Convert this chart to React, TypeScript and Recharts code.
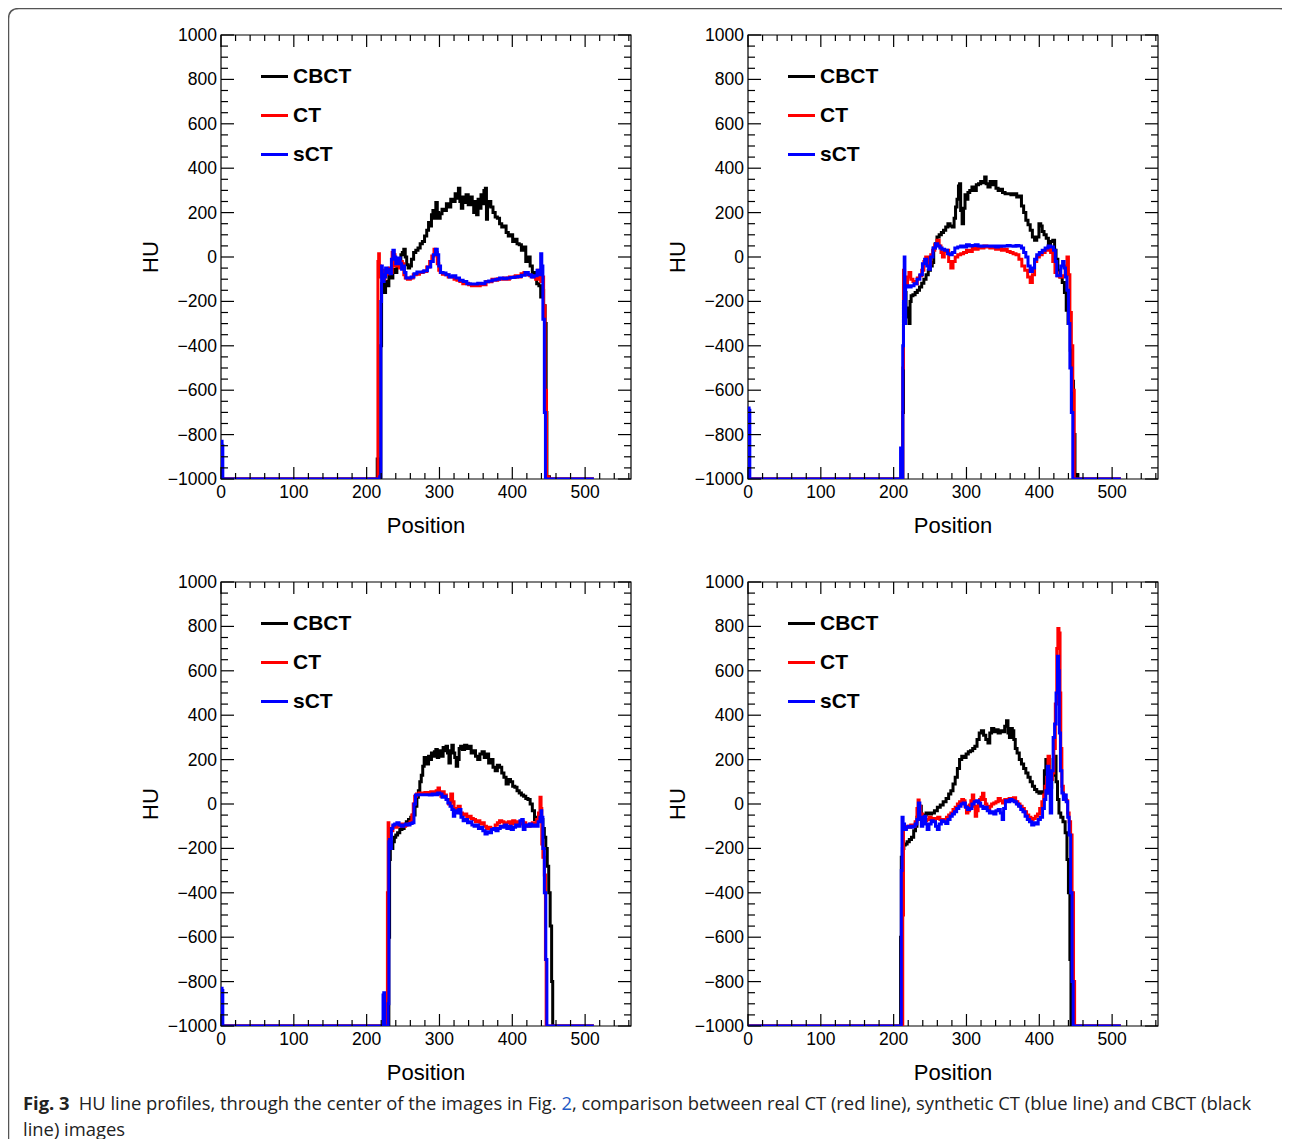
import React from 'react';
import { LineChart, Line, XAxis, YAxis, ReferenceArea, Legend } from 'recharts';

type Pt = [number, number];

// tick positions (ROOT style: majors labelled, minors unlabelled)
const xTicks = [0, 20, 40, 60, 80, 100, 120, 140, 160, 180, 200, 220, 240, 260, 280, 300, 320, 340, 360, 380, 400, 420, 440, 460, 480, 500, 520, 540, 560];
const yTicks = [-1000, -950, -900, -850, -800, -750, -700, -650, -600, -550, -500, -450, -400, -350, -300, -250, -200, -150, -100, -50, 0, 50, 100, 150, 200, 250, 300, 350, 400, 450, 500, 550, 600, 650, 700, 750, 800, 850, 900, 950, 1000];

// ---- panel 1 (top left) ----
const p1Cbct: Pt[] = [[0,-1000],[1,-900],[2,-1000],[214,-1000],[215,-910],[216,-1000],[219,-1000],[220,-400],[221,-120],[223,-140],[225,-160],[227,-110],[229,-130],[232,-80],[235,-95],[237,-55],[240,-70],[243,-30],[246,-15],[248,10],[250,20],[252,35],[254,0],[256,-35],[258,-50],[260,-40],[263,-10],[266,20],[269,30],[272,40],[275,60],[278,70],[281,95],[284,120],[286,155],[288,140],[290,190],[292,210],[294,175],[296,245],[298,200],[300,175],[302,195],[305,215],[308,210],[311,240],[314,225],[317,260],[320,250],[323,285],[325,265],[327,310],[329,250],[331,220],[333,270],[335,245],[338,280],[341,235],[344,270],[346,235],[348,200],[350,250],[352,190],[354,260],[356,220],[358,280],[360,240],[362,300],[364,310],[365,170],[367,230],[369,250],[372,225],[375,200],[378,180],[381,175],[384,150],[387,135],[390,140],[393,110],[396,95],[399,100],[402,70],[405,80],[408,60],[411,55],[414,30],[417,45],[420,-20],[423,0],[426,-40],[429,-80],[432,-70],[435,-120],[438,-130],[440,-180],[442,-150],[444,-220],[446,-300],[447,-700],[448,-1000],[450,-990],[452,-1000],[512,-1000]];
const p1Ct: Pt[] = [[0,-1000],[1,-860],[2,-1000],[215,-1000],[216,-20],[217,15],[218,-40],[220,-90],[222,-60],[224,-100],[226,-80],[228,-60],[230,-75],[232,-50],[234,-70],[236,20],[238,10],[240,-40],[242,-20],[244,-10],[246,-50],[248,-20],[250,-30],[252,-80],[254,-95],[258,-100],[262,-95],[266,-80],[270,-78],[275,-70],[280,-65],[285,-45],[288,-20],[291,5],[294,35],[296,20],[298,-30],[300,-60],[302,-70],[306,-78],[310,-80],[314,-90],[318,-90],[322,-100],[326,-105],[330,-110],[334,-120],[338,-118],[342,-125],[346,-130],[350,-128],[354,-130],[358,-120],[362,-125],[366,-110],[370,-112],[374,-100],[378,-105],[382,-98],[386,-100],[390,-95],[394,-100],[398,-90],[402,-92],[406,-85],[410,-90],[414,-75],[418,-70],[422,-80],[426,-85],[430,-90],[434,-100],[436,-60],[438,-80],[440,-110],[442,-90],[444,-220],[446,-600],[448,-990],[452,-1000],[512,-1000]];
const p1Sct: Pt[] = [[0,-1000],[1,-830],[2,-850],[3,-1000],[217,-1000],[219,-990],[220,-200],[221,-40],[222,-80],[223,-110],[225,-90],[227,-50],[229,-70],[231,-55],[233,-75],[235,-10],[237,30],[239,0],[241,-30],[243,-10],[245,-5],[247,-30],[249,-55],[251,-40],[253,-70],[255,-95],[259,-95],[263,-90],[267,-75],[271,-68],[276,-68],[281,-62],[286,-45],[290,-20],[293,10],[296,35],[298,10],[300,-40],[303,-70],[307,-72],[311,-80],[316,-90],[320,-85],[325,-95],[330,-105],[335,-110],[340,-120],[345,-122],[350,-122],[355,-118],[360,-120],[365,-112],[370,-108],[375,-104],[380,-100],[385,-95],[390,-98],[395,-95],[400,-92],[405,-90],[410,-88],[415,-82],[420,-70],[424,-80],[428,-90],[432,-85],[436,-60],[438,-80],[440,15],[441,-40],[443,-280],[445,-700],[446,-1000],[512,-1000]];

// ---- panel 2 (top right) ----
const p2Cbct: Pt[] = [[0,-1000],[1,-920],[2,-1000],[212,-1000],[213,-700],[214,-210],[216,-160],[218,-230],[220,-270],[222,-300],[223,-200],[225,-175],[228,-170],[231,-160],[234,-150],[237,-135],[240,-118],[243,-100],[246,-80],[249,-60],[252,-40],[254,-25],[256,40],[258,60],[261,90],[264,100],[267,110],[270,120],[273,135],[276,150],[279,140],[282,135],[284,175],[286,225],[288,260],[290,320],[291,330],[293,210],[295,150],[297,220],[299,280],[301,260],[303,290],[306,300],[309,315],[312,300],[315,325],[318,330],[321,340],[324,335],[326,360],[328,330],[331,315],[334,340],[337,325],[339,340],[342,310],[345,300],[348,305],[351,290],[355,285],[359,285],[363,280],[367,285],[371,270],[374,275],[377,230],[380,200],[383,165],[386,145],[389,120],[392,90],[395,75],[398,90],[401,150],[403,140],[405,115],[408,100],[411,85],[414,60],[417,70],[420,75],[422,30],[424,-10],[427,-60],[430,-90],[433,-115],[436,-160],[438,-240],[441,-300],[444,-420],[446,-560],[448,-800],[450,-1000],[452,-980],[454,-1000],[512,-1000]];
const p2Ct: Pt[] = [[0,-1000],[1,-950],[2,-1000],[212,-1000],[213,-500],[214,-60],[216,-100],[218,-120],[220,-90],[222,-70],[225,-100],[228,-110],[231,-120],[234,-95],[237,-85],[240,-60],[243,-20],[245,0],[248,-10],[250,-30],[252,10],[255,30],[258,55],[261,75],[264,50],[266,20],[268,0],[271,25],[274,30],[277,-20],[280,-50],[283,-20],[286,0],[290,10],[294,15],[298,20],[302,30],[306,25],[310,40],[314,35],[318,45],[322,40],[326,50],[330,45],[334,40],[338,45],[342,35],[346,40],[350,30],[354,35],[358,25],[362,20],[366,15],[370,10],[374,-10],[378,-40],[382,-60],[386,-90],[389,-115],[392,-80],[395,-20],[398,0],[402,10],[406,20],[410,30],[414,45],[417,20],[420,-20],[423,-70],[426,-85],[430,-90],[434,-85],[437,-40],[439,0],[441,-80],[443,-250],[445,-400],[447,-600],[449,-1000],[512,-1000]];
const p2Sct: Pt[] = [[0,-1000],[1,-680],[2,-690],[3,-1000],[209,-1000],[210,-860],[211,-870],[212,-1000],[213,-400],[214,-200],[215,0],[216,-300],[217,-130],[219,-130],[222,-135],[226,-130],[230,-120],[234,-100],[238,-80],[241,-30],[244,-10],[247,-40],[249,-55],[252,0],[256,40],[259,60],[262,50],[265,40],[268,35],[272,30],[276,15],[279,10],[282,20],[286,40],[290,45],[294,50],[298,45],[302,55],[306,50],[310,52],[314,55],[318,50],[322,48],[326,50],[330,50],[334,48],[338,50],[342,45],[346,50],[350,48],[354,50],[358,52],[362,50],[366,48],[370,52],[374,50],[377,40],[380,20],[383,0],[386,-40],[389,-65],[392,-50],[395,-10],[398,10],[402,20],[406,30],[410,40],[414,50],[418,45],[421,30],[423,-20],[425,-85],[428,-85],[431,-40],[433,-20],[435,-50],[437,-90],[439,-150],[441,-300],[443,-500],[445,-700],[447,-1000],[512,-1000]];

// ---- panel 3 (bottom left) ----
const p3Cbct: Pt[] = [[0,-1000],[1,-900],[2,-1000],[230,-1000],[231,-600],[232,-250],[233,-180],[235,-200],[237,-170],[239,-150],[241,-140],[244,-130],[247,-115],[250,-110],[253,-95],[256,-80],[259,-70],[262,-60],[265,-50],[268,-10],[270,30],[272,60],[274,100],[276,130],[278,170],[280,210],[282,190],[284,180],[286,215],[288,200],[290,230],[292,215],[294,235],[296,245],[298,210],[300,225],[302,240],[304,215],[306,255],[308,240],[310,260],[312,230],[314,185],[316,240],[318,265],[320,230],[322,210],[324,170],[326,200],[328,250],[330,260],[333,245],[336,265],[339,250],[342,260],[345,230],[348,240],[351,215],[354,200],[357,225],[360,235],[363,210],[366,225],[369,185],[372,200],[375,165],[378,150],[381,175],[384,165],[387,140],[390,120],[393,90],[396,110],[399,100],[402,80],[405,75],[408,60],[411,50],[414,40],[417,35],[420,25],[423,20],[426,0],[429,-30],[432,-70],[435,-60],[438,-55],[441,-70],[443,-110],[445,-150],[447,-200],[449,-280],[451,-400],[453,-550],[455,-800],[456,-1000],[512,-1000]];
const p3Ct: Pt[] = [[0,-1000],[1,-950],[2,-1000],[226,-1000],[227,-870],[228,-860],[229,-400],[230,-85],[231,-150],[233,-110],[235,-120],[237,-100],[240,-105],[243,-95],[246,-100],[249,-90],[252,-100],[255,-95],[258,-90],[261,-80],[263,-50],[265,0],[267,35],[270,45],[274,50],[278,50],[282,52],[286,50],[290,55],[294,45],[297,60],[299,72],[301,50],[303,35],[305,55],[308,40],[311,20],[314,0],[317,45],[319,10],[321,-20],[324,-30],[327,-10],[330,-40],[333,-50],[336,-45],[339,-60],[342,-55],[345,-65],[348,-70],[351,-80],[354,-75],[357,-90],[360,-85],[363,-100],[366,-110],[369,-105],[372,-115],[375,-110],[378,-95],[381,-85],[384,-75],[387,-80],[390,-90],[393,-85],[396,-80],[399,-90],[402,-75],[405,-85],[408,-80],[411,-90],[414,-80],[417,-85],[420,-95],[423,-100],[426,-90],[429,-85],[432,-90],[435,-70],[437,-40],[439,30],[440,-20],[441,-180],[443,-240],[445,-320],[446,-700],[447,-1000],[512,-1000]];
const p3Sct: Pt[] = [[0,-1000],[1,-830],[2,-840],[3,-1000],[222,-1000],[223,-860],[224,-850],[225,-1000],[229,-1000],[230,-900],[231,-170],[232,-160],[233,-200],[235,-110],[237,-95],[240,-90],[243,-85],[246,-95],[249,-100],[252,-95],[255,-90],[258,-95],[261,-88],[264,-85],[266,0],[268,40],[272,42],[276,42],[280,42],[284,42],[288,40],[292,45],[296,42],[299,50],[302,45],[305,30],[308,35],[310,20],[313,5],[316,-10],[318,-25],[320,-55],[322,-30],[325,-40],[328,-25],[331,-60],[334,-75],[337,-70],[340,-85],[343,-80],[346,-95],[349,-100],[352,-95],[355,-110],[358,-105],[361,-120],[364,-135],[367,-125],[370,-130],[373,-115],[376,-110],[379,-120],[382,-110],[385,-100],[388,-105],[391,-95],[394,-110],[397,-100],[400,-115],[403,-105],[406,-95],[409,-100],[412,-75],[414,-70],[416,-115],[419,-95],[422,-100],[425,-90],[428,-100],[431,-95],[434,-100],[437,-80],[439,-60],[440,-30],[441,-60],[443,-200],[445,-400],[447,-700],[448,-1000],[512,-1000]];

// ---- panel 4 (bottom right) ----
const p4Cbct: Pt[] = [[0,-1000],[209,-1000],[210,-600],[211,-240],[213,-200],[215,-185],[217,-180],[220,-170],[223,-160],[226,-150],[229,-120],[231,-100],[233,-60],[235,-20],[237,-10],[239,-60],[241,-75],[243,-50],[246,-40],[250,-45],[254,-40],[258,-30],[262,-15],[266,-5],[270,10],[274,25],[277,45],[280,60],[283,90],[286,120],[289,160],[292,200],[295,215],[298,210],[301,225],[304,235],[307,240],[310,250],[313,260],[316,290],[319,320],[322,330],[325,310],[328,290],[331,275],[333,320],[336,340],[339,325],[342,335],[345,320],[348,330],[351,325],[354,350],[356,375],[358,320],[360,300],[362,340],[364,330],[366,290],[368,250],[371,230],[374,200],[377,180],[380,160],[383,140],[386,120],[389,100],[392,80],[395,65],[398,55],[401,48],[404,55],[406,50],[408,150],[410,200],[412,50],[414,60],[416,75],[418,130],[420,200],[422,215],[424,100],[426,20],[428,-40],[431,-60],[434,-80],[437,-130],[439,-250],[441,-400],[443,-700],[444,-1000],[512,-1000]];
const p4Ct: Pt[] = [[0,-1000],[212,-1000],[213,-500],[214,-115],[216,-110],[219,-100],[222,-105],[225,-95],[228,-100],[231,-80],[233,-20],[234,18],[236,-10],[238,-45],[241,-65],[244,-75],[247,-70],[250,-60],[253,-65],[256,-70],[259,-65],[262,-60],[265,-70],[268,-75],[271,-70],[274,-60],[277,-50],[280,-40],[283,-25],[286,-15],[289,0],[292,10],[295,20],[297,15],[299,-10],[301,-40],[303,-30],[305,-5],[307,15],[309,40],[311,-10],[313,-55],[315,-30],[317,-5],[319,20],[321,30],[323,48],[325,20],[327,0],[329,-15],[331,-25],[333,-10],[336,0],[339,5],[342,10],[345,25],[348,15],[351,5],[354,20],[357,15],[360,25],[363,20],[366,28],[369,10],[372,0],[375,-10],[378,-20],[381,-35],[384,-50],[387,-60],[390,-72],[393,-65],[396,-55],[399,-45],[402,-20],[405,10],[407,40],[409,80],[411,120],[413,215],[415,140],[417,110],[419,140],[421,250],[423,450],[425,700],[426,790],[428,770],[429,500],[430,250],[432,80],[434,40],[436,20],[438,15],[440,-40],[442,-80],[444,-140],[446,-400],[448,-800],[449,-1000],[512,-1000]];
const p4Sct: Pt[] = [[0,-1000],[210,-1000],[211,-300],[212,-60],[214,-90],[216,-115],[219,-105],[222,-100],[225,-105],[228,-100],[231,-90],[233,-70],[235,5],[237,-60],[239,-100],[241,-80],[243,-55],[245,-90],[247,-115],[250,-90],[253,-75],[256,-80],[259,-100],[261,-115],[264,-90],[267,-75],[270,-80],[273,-88],[276,-70],[279,-55],[282,-45],[285,-35],[288,-20],[291,-10],[294,0],[297,5],[300,-15],[303,-25],[306,-20],[309,0],[312,10],[315,15],[318,5],[321,-10],[324,-20],[327,-15],[330,-30],[333,-40],[336,-35],[339,-45],[342,-30],[345,-25],[348,-40],[350,-70],[352,-20],[355,15],[358,10],[361,20],[364,15],[367,10],[370,0],[373,-10],[376,-25],[379,-35],[382,-55],[385,-70],[388,-80],[391,-95],[394,-85],[397,-90],[400,-70],[403,-60],[406,-20],[408,20],[410,60],[412,170],[414,50],[416,-40],[418,150],[420,300],[422,360],[424,500],[426,665],[427,600],[428,320],[430,150],[432,50],[434,20],[436,40],[438,10],[440,-60],[442,-140],[444,-400],[446,-800],[447,-1000],[512,-1000]];

// plot box geometry
const PLOT_W = 410;
const PLOT_H = 444;
const Y_W = 100;
const X_H = 80;
const M_TOP = 10;
const M_RIGHT = 12;
const FONT = '"Liberation Sans", Arial, Helvetica, sans-serif';

const toData = (pts: Pt[]) => pts.map(([x, y]) => ({ x, y }));
const fmt = (v: number) => (v < 0 ? '\u2212' + Math.abs(v) : String(v));

const XTick = (props: any) => {
  const { x, y, payload } = props;
  const major = payload.value % 100 === 0;
  const len = major ? 12 : 6;
  return (
    <g>
      <line x1={x} x2={x} y1={y} y2={y - len} stroke="#000" strokeWidth={1.2} />
      <line x1={x} x2={x} y1={y - PLOT_H} y2={y - PLOT_H + len} stroke="#000" strokeWidth={1.2} />
      {major && (
        <text x={x} y={y + 19} textAnchor="middle" fontSize={17.5} fontFamily={FONT} fill="#000">
          {payload.value}
        </text>
      )}
    </g>
  );
};

const YTick = (props: any) => {
  const { x, y, payload } = props;
  const major = payload.value % 200 === 0;
  const len = major ? 13 : 7;
  return (
    <g>
      <line x1={x} x2={x + len} y1={y} y2={y} stroke="#000" strokeWidth={1.2} />
      <line x1={x + PLOT_W} x2={x + PLOT_W - len} y1={y} y2={y} stroke="#000" strokeWidth={1.2} />
      {major && (
        <text x={x - 4} y={y + 6} textAnchor="end" fontSize={17.5} fontFamily={FONT} fill="#000">
          {fmt(payload.value)}
        </text>
      )}
    </g>
  );
};

const LegendBox = ({ payload }: any) => (
  <div style={{ fontFamily: FONT }}>
    {(payload || []).map((e: any) => (
      <div key={e.value} style={{ display: 'flex', alignItems: 'center', height: 39 }}>
        <div style={{ width: 27, height: 3, background: e.color, marginRight: 5 }} />
        <span style={{ fontSize: 21, fontWeight: 700, color: '#000' }}>{e.value}</span>
      </div>
    ))}
  </div>
);

function Panel({ left, top, cbct, ct, sct }: { left: number; top: number; cbct: Pt[]; ct: Pt[]; sct: Pt[] }) {
  return (
    <div style={{ position: 'absolute', left: left - Y_W, top: top - M_TOP }}>
      <LineChart
        width={Y_W + PLOT_W + M_RIGHT}
        height={M_TOP + PLOT_H + X_H}
        margin={{ top: M_TOP, right: M_RIGHT, bottom: 0, left: 0 }}
      >
        <XAxis
          dataKey="x"
          type="number"
          domain={[0, 563]}
          ticks={xTicks}
          interval={0}
          allowDataOverflow
          axisLine={false}
          tickLine={false}
          tickSize={0}
          tickMargin={0}
          height={X_H}
          tick={XTick}
          label={{
            content: () => (
              <text x={Y_W + PLOT_W / 2} y={M_TOP + PLOT_H + 54} textAnchor="middle" fontSize={22} fontFamily={FONT} fill="#000">
                Position
              </text>
            ),
          }}
        />
        <YAxis
          type="number"
          domain={[-1000, 1000]}
          ticks={yTicks}
          interval={0}
          allowDataOverflow
          axisLine={false}
          tickLine={false}
          tickSize={0}
          tickMargin={0}
          width={Y_W}
          tick={YTick}
          label={{
            content: () => (
              <text
                x={Y_W - 63}
                y={M_TOP + PLOT_H / 2}
                transform={`rotate(-90 ${Y_W - 63} ${M_TOP + PLOT_H / 2})`}
                textAnchor="middle"
                fontSize={22}
                fontFamily={FONT}
                fill="#000"
              >
                HU
              </text>
            ),
          }}
        />
        <ReferenceArea x1={0} x2={563} y1={-1000} y2={1000} fill="none" stroke="#000" strokeWidth={1.2} ifOverflow="visible" />
        <Line type="step" data={toData(cbct)} dataKey="y" name="CBCT" stroke="#000000" strokeWidth={3} dot={false} isAnimationActive={false} />
        <Line type="step" data={toData(ct)} dataKey="y" name="CT" stroke="#ff0000" strokeWidth={3} dot={false} isAnimationActive={false} />
        <Line type="step" data={toData(sct)} dataKey="y" name="sCT" stroke="#0000ff" strokeWidth={3} dot={false} isAnimationActive={false} />
        <Legend
          layout="vertical"
          align="center"
          verticalAlign="middle"
          content={LegendBox}
          wrapperStyle={{ left: Y_W + 40, top: M_TOP + 21.5, width: 'auto', height: 'auto' }}
        />
      </LineChart>
    </div>
  );
}

export default function App() {
  return (
    <div style={{ position: 'relative', width: 1290, height: 1147, margin: -8, overflow: 'hidden', background: '#fff' }}>
      {/* rounded figure frame, open at the bottom */}
      <svg width={1290} height={1147} style={{ position: 'absolute', left: 0, top: 0 }}>
        <path d="M 8.5 1147 L 8.5 19 Q 8.5 8.5 19 8.5 L 1279 8.5 Q 1289.5 8.5 1289.5 19 L 1289.5 1147" fill="none" stroke="#555" strokeWidth={1.5} />
      </svg>
      <Panel left={221} top={35} cbct={p1Cbct} ct={p1Ct} sct={p1Sct} />
      <Panel left={748} top={35} cbct={p2Cbct} ct={p2Ct} sct={p2Sct} />
      <Panel left={221} top={582} cbct={p3Cbct} ct={p3Ct} sct={p3Sct} />
      <Panel left={748} top={582} cbct={p4Cbct} ct={p4Ct} sct={p4Sct} />
      <div
        style={{
          position: 'absolute',
          left: 23,
          top: 1090,
          width: 1260,
          fontFamily: '"Open Sans", "Noto Sans", sans-serif',
          fontSize: 18.4,
          lineHeight: '26px',
          color: '#222',
        }}
      >
        <div style={{ whiteSpace: 'nowrap' }}>
          <span style={{ fontWeight: 700, marginRight: 9 }}>Fig. 3</span>
          HU line profiles, through the center of the images in Fig. <span style={{ color: '#1f5bc6' }}>2</span>, comparison between real CT (red line), synthetic CT (blue line) and CBCT (black
        </div>
        <div>line) images</div>
      </div>
    </div>
  );
}
